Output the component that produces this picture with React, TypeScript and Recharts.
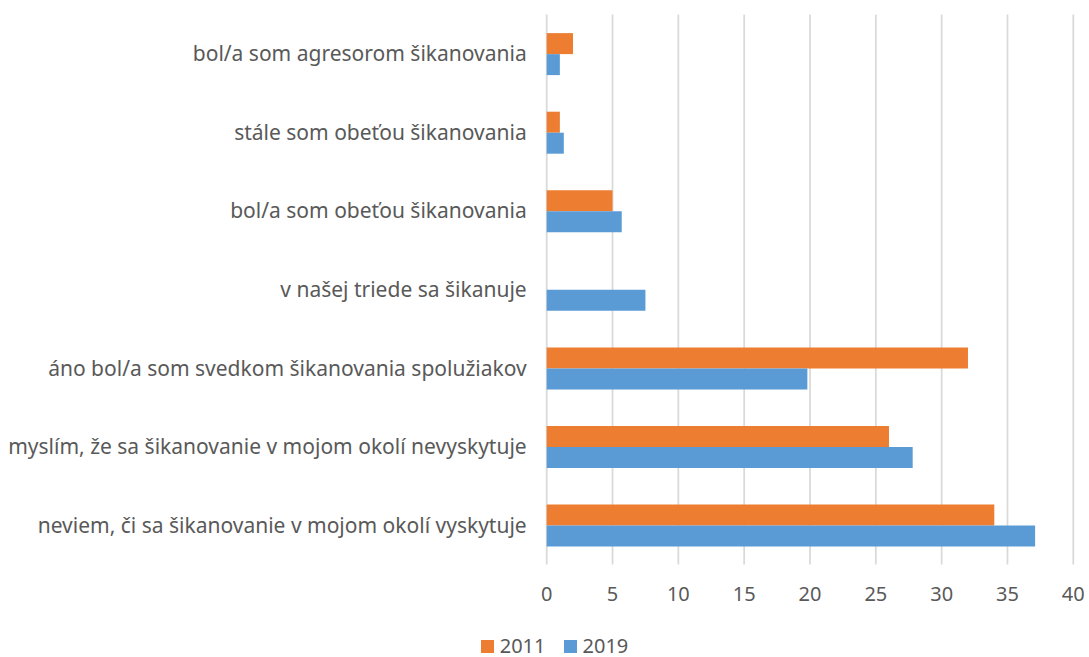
import React from 'react';
import { Bar, BarChart, CartesianGrid, Legend, XAxis, YAxis } from 'recharts';

const categories = [
  'bol/a som agresorom šikanovania',
  'stále som obeťou šikanovania',
  'bol/a som obeťou šikanovania',
  'v našej triede sa šikanuje',
  'áno bol/a som svedkom šikanovania spolužiakov',
  'myslím, že sa šikanovanie v mojom okolí nevyskytuje',
  'neviem, či sa šikanovanie v mojom okolí vyskytuje',
];
const values2011 = [2, 1, 5, 0, 32, 26, 34];
const values2019 = [1, 1.3, 5.7, 7.5, 19.8, 27.8, 37.1];
const xTicks = [0, 5, 10, 15, 20, 25, 30, 35, 40];

const ORANGE = '#ED7D31';
const BLUE = '#5B9BD5';
const TEXT = '#595959';
const FONT = '"Noto Sans", sans-serif';

const data = categories.map((name, i) => ({
  name,
  y2011: values2011[i],
  y2019: values2019[i],
}));

function LegendBox() {
  const items = [
    { label: '2011', color: ORANGE },
    { label: '2019', color: BLUE },
  ];
  return (
    <div
      style={{
        display: 'flex',
        justifyContent: 'center',
        gap: 18,
        paddingLeft: 20,
        fontFamily: FONT,
        fontSize: 20,
        lineHeight: '20px',
        color: TEXT,
      }}
    >
      {items.map((it) => (
        <div key={it.label} style={{ display: 'flex', alignItems: 'center', gap: 6 }}>
          <span style={{ width: 13, height: 13, background: it.color, display: 'inline-block' }} />
          <span>{it.label}</span>
        </div>
      ))}
    </div>
  );
}

export default function App() {
  return (
    <div style={{ position: 'absolute', top: 0, left: 0, width: 1089, height: 657, background: '#fff' }}>
      <BarChart
        width={1089}
        height={657}
        data={data}
        layout="vertical"
        margin={{ top: 14.5, right: 15.7, left: 0, bottom: 24.5 }}
        barCategoryGap="23.7%"
        barGap={0}
      >
        <CartesianGrid horizontal={false} stroke="#d9d9d9" strokeWidth={1.75} />
        <XAxis
          type="number"
          domain={[0, 40]}
          ticks={xTicks}
          interval={0}
          axisLine={false}
          tickLine={false}
          tickSize={0}
          tickMargin={22}
          height={48}
          tick={{ fill: TEXT, fontSize: 20, fontFamily: FONT }}
        />
        <YAxis
          type="category"
          dataKey="name"
          width={546.7}
          axisLine={false}
          tickLine={false}
          tickSize={0}
          tickMargin={20}
          interval={0}
          tick={{ fill: TEXT, fontSize: 21, fontFamily: FONT }}
        />
        <Legend
          verticalAlign="bottom"
          height={20}
          content={() => <LegendBox />}
          wrapperStyle={{ top: 636, left: 0, width: 1089, height: 20 }}
        />
        <Bar dataKey="y2011" name="2011" fill={ORANGE} isAnimationActive={false} />
        <Bar dataKey="y2019" name="2019" fill={BLUE} isAnimationActive={false} />
      </BarChart>
    </div>
  );
}
